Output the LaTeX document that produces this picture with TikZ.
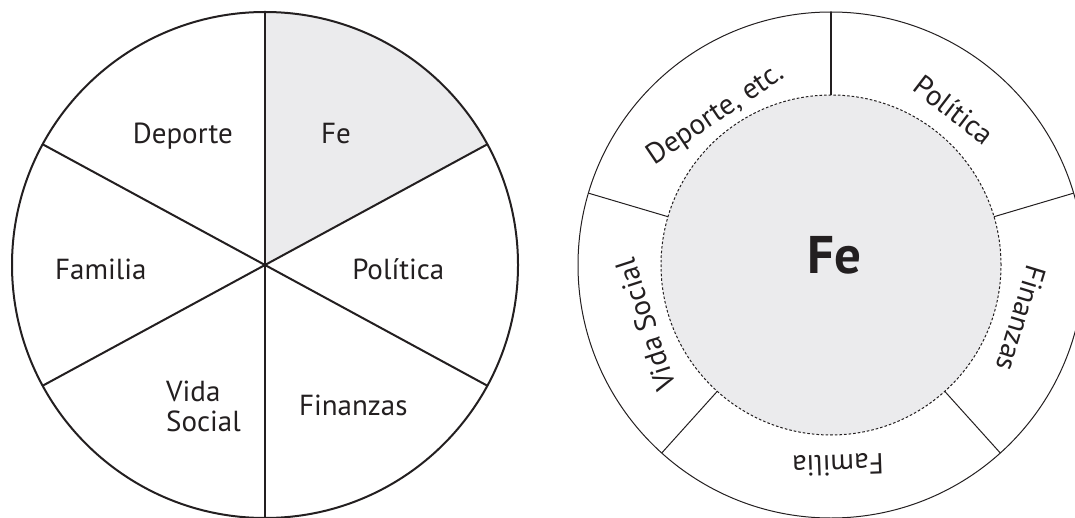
\documentclass[tikz,border=0pt]{standalone}
\usepackage{fontspec}
\setmainfont{PT Sans}
\usepackage{tikz}
\usetikzlibrary{positioning}
\definecolor{inkBlack}{RGB}{35,31,32}
\definecolor{feGray}{RGB}{235,235,237}
\newcommand{\pieSpoke}[2]{\draw[pie line] (#1:253) -- (#2:253);}
\newcommand{\ringSpoke}[2]{\draw[ring line,#2] (#1:170) -- (#1:253);}
\newcommand{\ringLabel}[4]{\node[slicetext,rotate=#3](#1) at (#2) {#4};}

\begin{document}
\begin{tikzpicture}[
    % One point per pixel of the sketch
    x=1pt,y=1pt,
    % Default label font
    slicetext/.style={font=\fontsize{29}{31}\selectfont,inner sep=0pt,text=inkBlack},
    % Stroke thickness: pie is heavy, ring is light
    pie line/.style={line width=2pt,draw=inkBlack},
    ring line/.style={line width=1pt,draw=inkBlack},
    inner ring/.style={line width=1pt,draw=inkBlack,dash pattern=on 2.6pt off 2pt}
    ]
    \useasboundingbox (0,0) rectangle (1075,517);

    % left: pie with six slices
    \begin{scope}[shift={(265,252)}]
      \coordinate (lc) at (0,0);
      \fill[feGray] (lc) -- (90:253) arc[start angle=90,end angle=28.5,radius=253] -- cycle;
      \draw[pie line] (lc) circle[radius=253];
      \pieSpoke{90}{270}
      \pieSpoke{28.5}{208.5}
      \pieSpoke{151.5}{331.5}
    \end{scope}

    \node[slicetext,anchor=base] (deporte) at (182.8,373) {Deporte};
    \node[slicetext,anchor=base] (fe) at (336,373) {Fe};
    \node[slicetext,anchor=base] (familia) at (100.8,237.7) {Familia};
    \node[slicetext,anchor=base] (politica) at (398.3,237.7) {Política};
    \node[slicetext,anchor=base west] (vida) at (166,115.3) {Vida};
    \node[slicetext,anchor=base west] (social) at (166,86) {Social};
    \node[slicetext,anchor=base] (finanzas) at (353.3,102) {Finanzas};

    % right: Fe in the middle, the rest round it
    \begin{scope}[shift={(831,252)}]
      \coordinate (rc) at (0,0);
      \fill[feGray] (rc) circle[radius=170];
      \draw[ring line] (rc) circle[radius=253];
      \draw[inner ring] (rc) circle[radius=170];
      \ringSpoke{90}{line width=1.6pt}
      \ringSpoke{16.5}{}
      \ringSpoke{-48}{}
      \ringSpoke{-132}{}
      \ringSpoke{163.5}{}

      \ringLabel{rdeporte}{127.5:189}{34}{Deporte, etc.}
      \ringLabel{rpolitica}{51.6:198}{-37.5}{Política}
      \ringLabel{rfinanzas}{-15.7:198}{-107}{Finanzas}
      \ringLabel{rfamilia}{-88:200}{182}{Familia}
      \ringLabel{rvida}{197.9:195}{108}{Vida Social}
    \end{scope}

    \node[font=\fontsize{53}{56}\selectfont\bfseries,inner sep=0pt,text=inkBlack,anchor=base] (rfe) at (834,243.7) {Fe};
  \end{tikzpicture}
\end{document}
